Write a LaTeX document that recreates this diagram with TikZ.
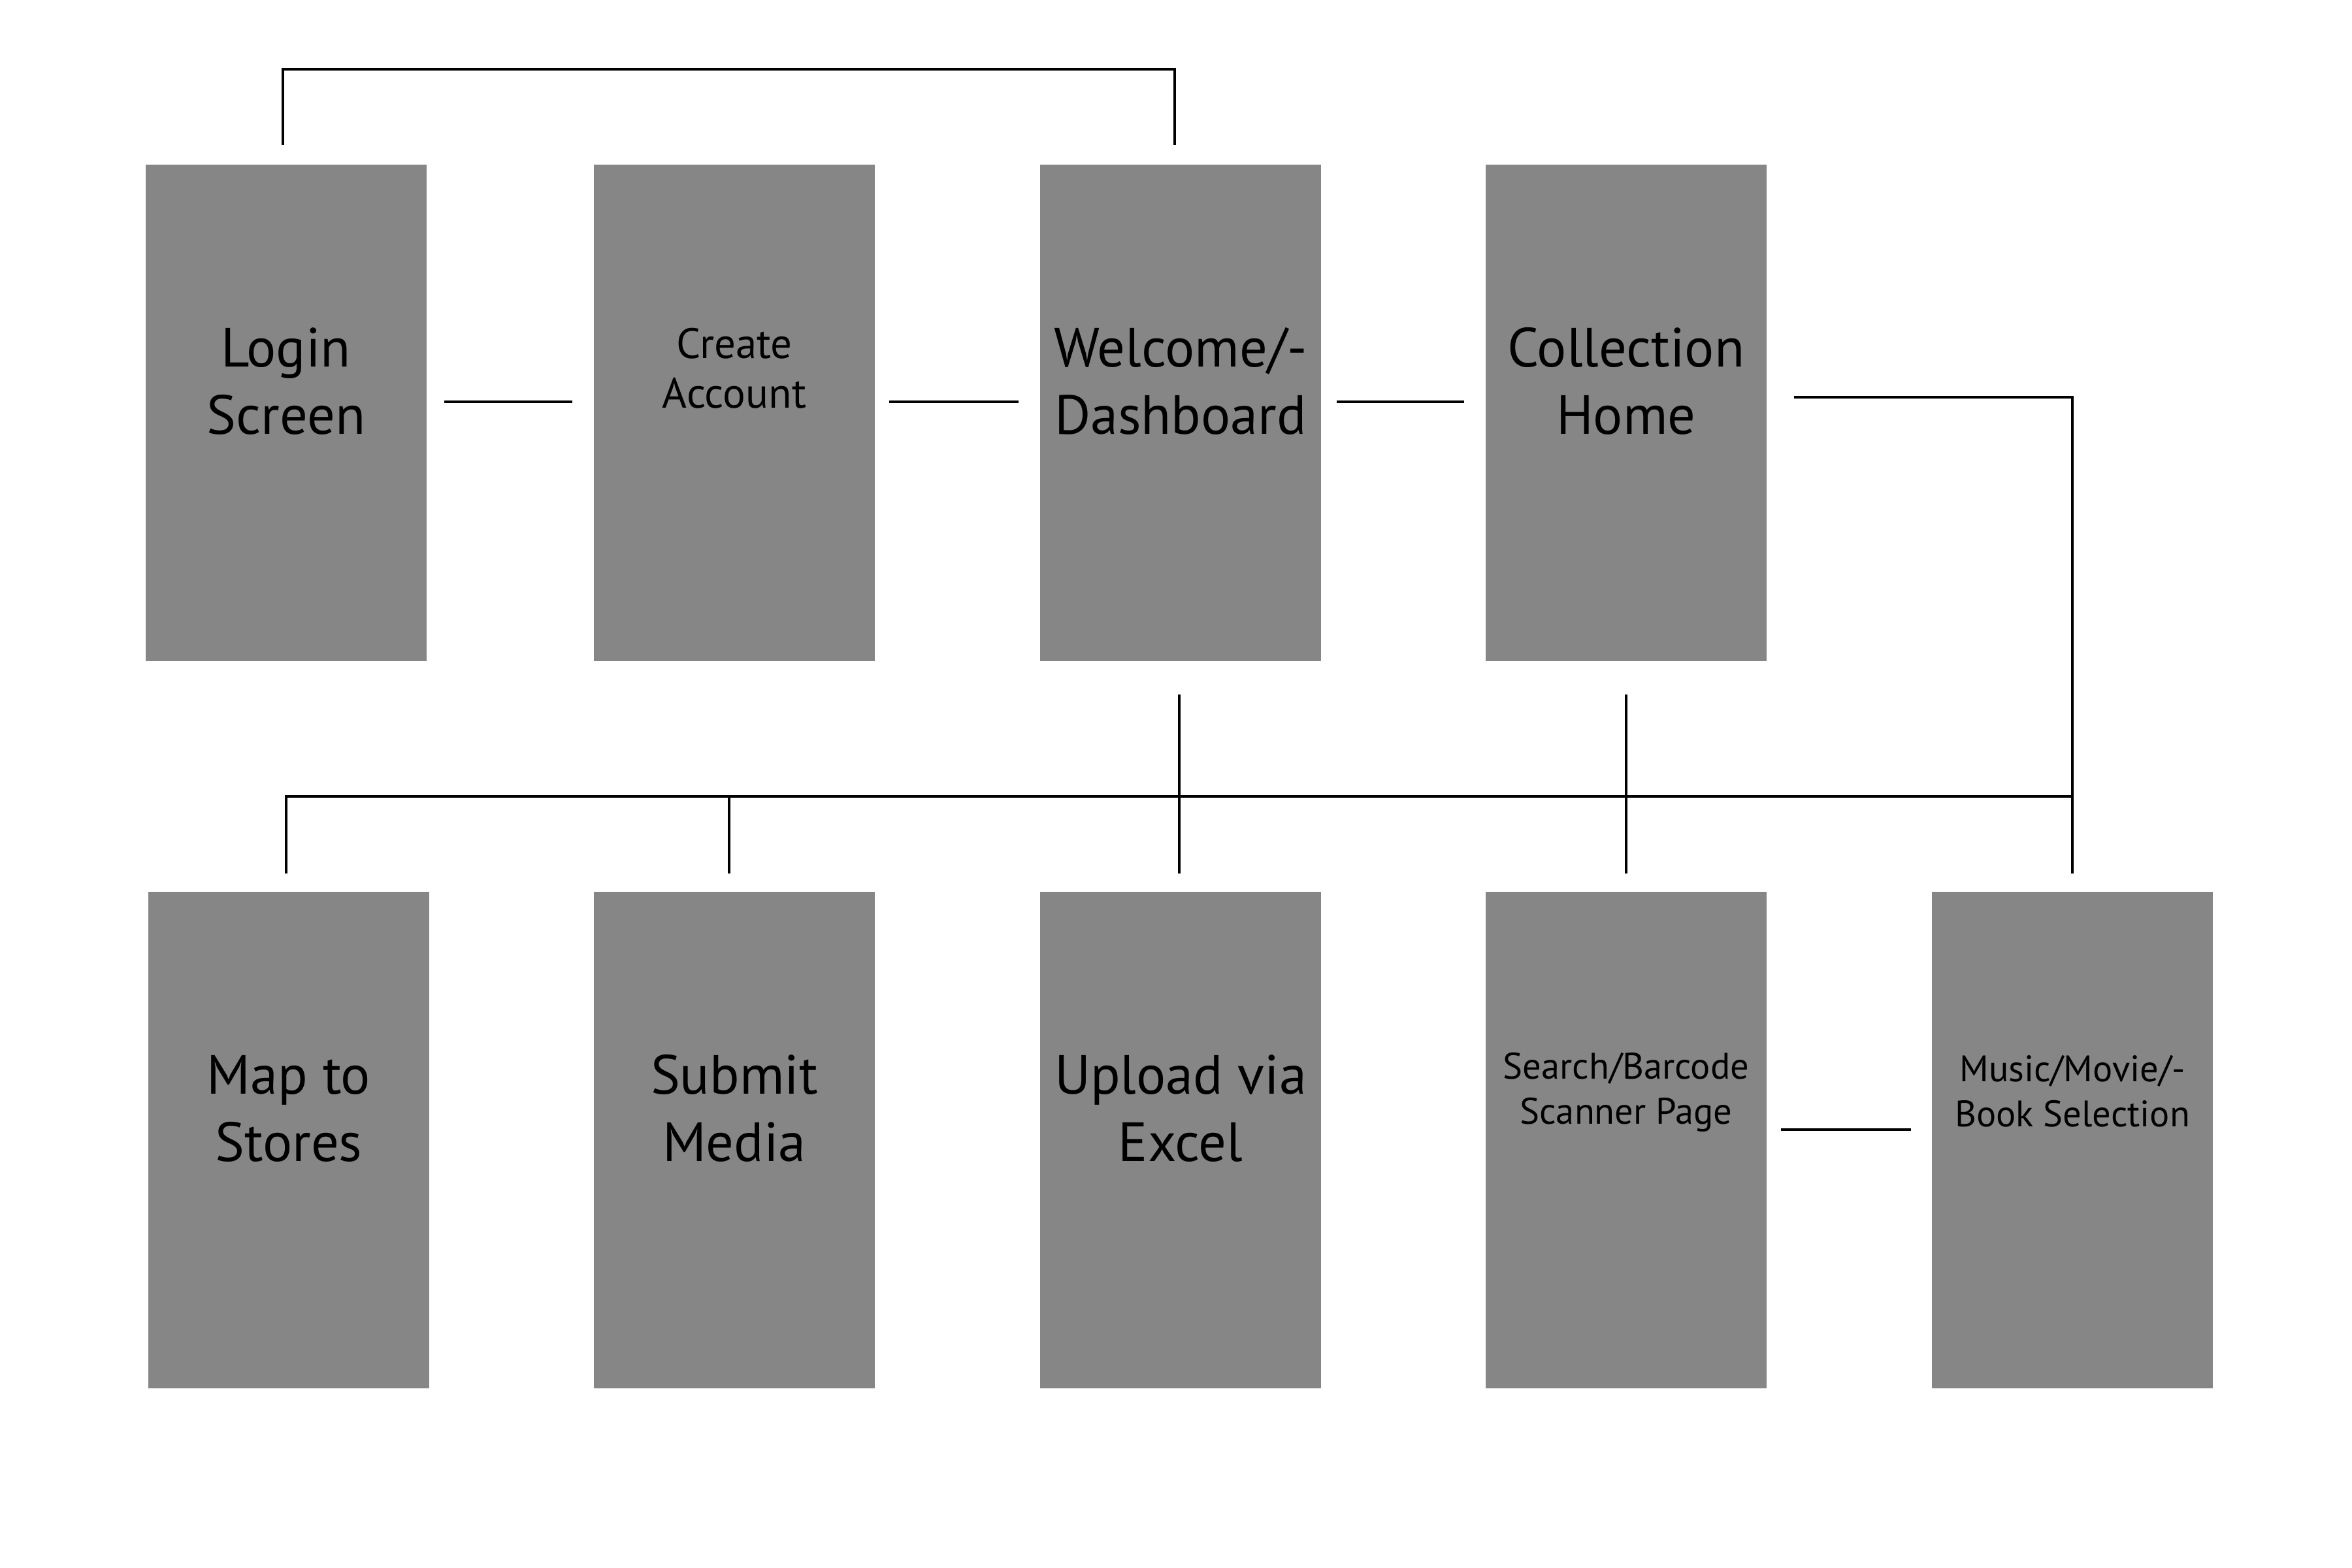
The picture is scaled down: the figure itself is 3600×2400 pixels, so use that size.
\documentclass[tikz,border=0pt]{standalone}
\usepackage{fontspec}
\setmainfont{PT Sans}
\definecolor{boxgray}{RGB}{134,134,134}
\begin{document}
\begin{tikzpicture}[x=0.1pt,y=-0.1pt,
  screen/.style={rectangle,fill=boxgray,draw=none,minimum width=43pt,minimum height=76pt,inner sep=0pt,outer sep=0pt},
  bigtxt/.style={align=center,font=\fontsize{8.45}{10.3}\selectfont,inner sep=0pt},
  smalltxt/.style={align=center,font=\fontsize{6.5}{7.65}\selectfont,inner sep=0pt},
  tinytxt/.style={align=center,font=\fontsize{5.65}{6.9}\selectfont,inner sep=0pt},
  conn/.style={draw=black,line width=0.35pt}]
\useasboundingbox (0,0) rectangle (3600,2400);
% top row
\node[screen] (login) at (438,632) {};
\node[screen] (create) at (1124,632) {};
\node[screen] (welcome) at (1807,632) {};
\node[screen] (collection) at (2489,632) {};
% bottom row
\node[screen] (map) at (442,1745) {};
\node[screen] (submit) at (1124,1745) {};
\node[screen] (upload) at (1807,1745) {};
\node[screen] (search) at (2489,1745) {};
\node[screen] (music) at (3172,1745) {};
% labels
\node[bigtxt] (loginT) at (438,583.5) {Login\\Screen};
\node[smalltxt] (createT) at (1124,563.5) {Create\\Account};
\node[bigtxt] (welcomeT) at (1807,583.5) {Welcome/-\\Dashboard};
\node[bigtxt] (collectionT) at (2489,583.5) {Collection\\Home};
\node[bigtxt] (mapT) at (442,1696.5) {Map to\\Stores};
\node[bigtxt] (submitT) at (1124,1696.5) {Submit\\Media};
\node[bigtxt] (uploadT) at (1807,1696.5) {Upload via\\Excel};
\node[tinytxt] (searchT) at (2489,1672) {Search/Barcode\\Scanner Page};
\node[tinytxt] (musicT) at (3172,1670) {Music/Movie/-\\Book Selection};
% connectors
\draw[conn] ([xshift=-0.5pt,yshift=3pt]login.north) -- ++(0,-116) -| ([xshift=-0.9pt,yshift=3pt]welcome.north);
\draw[conn] ([xshift=2.7pt,yshift=1.7pt]login.east) -- ([xshift=-3.3pt,yshift=1.7pt]create.west);
\draw[conn] ([xshift=2.2pt,yshift=1.7pt]create.east) -- ([xshift=-3.3pt,yshift=1.7pt]welcome.west);
\draw[conn] ([xshift=2.4pt,yshift=1.7pt]welcome.east) -- ([xshift=-3.3pt,yshift=1.7pt]collection.west);
\draw[conn] ([xshift=4.2pt,yshift=2.4pt]collection.east) -| ([yshift=2.8pt]music.north);
\draw[conn] ([xshift=-0.4pt,yshift=2.8pt]map.north) |- ([yshift=14.6pt]music.north);
\draw[conn] ([xshift=-0.8pt,yshift=2.8pt]submit.north) -- ([xshift=-0.8pt,yshift=14.6pt]submit.north);
\draw[conn] ([xshift=-0.2pt,yshift=-5.1pt]welcome.south) -- ([xshift=-0.2pt,yshift=2.8pt]upload.north);
\draw[conn] ([yshift=-5.1pt]collection.south) -- ([yshift=2.8pt]search.north);
\draw[conn] ([xshift=2.2pt,yshift=1.6pt]search.east) -- ([xshift=-3.2pt,yshift=1.6pt]music.west);
\end{tikzpicture}
\end{document}
